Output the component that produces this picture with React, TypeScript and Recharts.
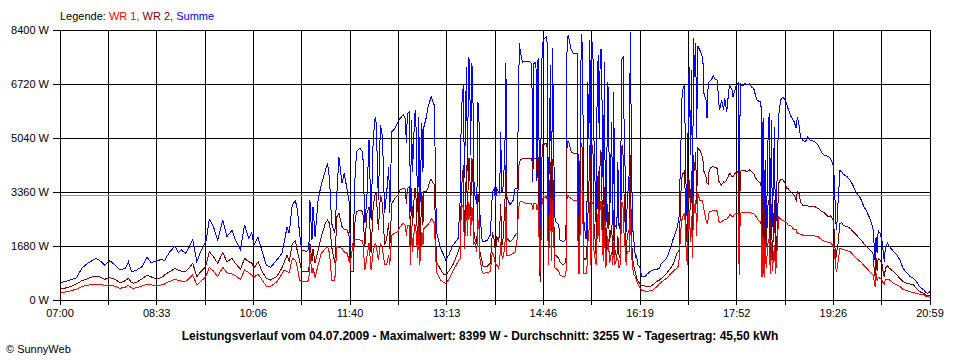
import { LineChart, Line, XAxis, YAxis, CartesianGrid, ReferenceLine } from 'recharts';

// minutes after 07:00 (07:00 .. 20:59)
const minutes = [
  0, 5, 10, 16, 21, 25, 29, 35, 40, 43, 48,
  53, 58, 63, 66, 69, 71, 74, 79, 84, 88, 93, 98, 101, 103, 106,
  111, 114, 117, 121, 124, 128, 132, 135, 139, 141, 144, 148, 152, 157,
  161, 166, 169, 174, 178, 182, 185, 187, 191, 195, 199, 203, 209, 214,
  216, 219, 221, 224, 227, 229, 231, 233, 238, 240, 241, 243, 244, 246,
  249, 252, 256, 258, 260, 262, 265, 267, 269, 272, 274, 277, 279, 280, 283, 284,
  286, 289, 292, 294, 296, 298, 300, 302, 304, 305, 307, 309, 311, 313, 315,
  317, 318, 320, 323, 326, 328, 331, 333, 334, 335, 337, 338, 339, 340, 342, 343,
  345, 346, 347, 349, 350, 351, 353, 355, 357, 358, 360, 361, 363, 367, 370, 372, 375,
  379, 384, 386, 387, 389, 390, 392, 393, 394, 395, 396, 397, 398, 399, 400, 402, 403, 404, 405,
  407, 408, 412, 415, 417, 419, 420, 421, 423, 424, 425, 426, 427, 429, 430, 431, 434, 437, 439, 441, 442, 443,
  444, 446, 449, 452, 454, 455, 456, 457, 459, 460, 461, 463, 464, 465, 467, 469, 470, 471, 472, 473, 474, 475,
  477, 478, 481, 482, 485, 487, 488, 489, 490, 491, 493, 495, 499, 500, 501, 502, 503, 504, 505,
  507, 508, 509, 510, 511, 512, 513, 514, 515, 517, 518, 519, 520, 521, 522, 523, 524, 525, 526, 527, 528, 529, 530,
  532, 533, 534, 535, 537, 538, 539, 540, 542, 543, 544, 545, 546, 547, 549, 550, 551, 552, 553, 555, 556, 557,
  559, 561, 564, 566, 569, 572, 575, 578, 580, 585, 588, 591, 595, 596, 597, 599, 600, 602, 603, 604, 605,
  606, 607, 608, 609, 610, 611, 612, 613, 614, 615, 617, 619, 620, 621, 623, 624, 625, 626, 628, 630, 632, 634, 635,
  636, 638, 640, 641, 643, 645, 646, 648, 649, 651, 652, 654, 655, 656, 658, 661, 662, 665, 667, 669, 670, 672,
  673, 675, 676, 677, 678, 679, 680, 681, 683, 684, 685, 686, 687, 689, 690, 691, 693, 695, 697, 699,
  701, 702, 705, 708, 710, 711, 713, 714, 716, 719, 721, 723, 728, 731, 735, 737, 741, 743, 745, 746,
  747, 748, 749, 750, 751, 752, 754, 755, 759, 762, 765, 768, 772, 775, 778, 781, 784, 785, 786, 787, 788, 789,
  791, 793, 794, 795, 796, 798, 800, 804, 807, 810, 813, 817, 820, 823, 826, 829, 833, 835, 837, 839,
];

// WR 1 (W)
const wr1 = [
  228, 250, 280, 340, 420, 450, 475, 498, 480, 456, 456,
  430, 363, 400, 456, 380, 363, 380, 430, 498, 470, 435, 470, 500, 540, 580,
  643, 600, 590, 570, 650, 778, 467, 560, 674, 760, 1016, 900, 726, 1016,
  850, 809, 760, 643, 933, 850, 778, 700, 809, 622, 430, 420, 560, 800,
  933, 880, 850, 1296, 1244, 1000, 622, 580, 570, 622, 1452, 850, 1000, 700,
  1100, 1452, 1600, 1659, 1452, 622, 622, 1659, 1640, 1607, 1500, 1452, 1192, 1141, 1867, 1867,
  1867, 1867, 1850, 933, 1348, 1763, 933, 1500, 1763, 1700, 1244, 1763, 1600, 1100, 1089,
  1400, 1100, 2022, 2080, 2126, 2281, 2385, 2333, 2000, 2330, 2333, 1089, 2300, 1500, 2333, 2300,
  1296, 2333, 1100, 2126, 1700, 2230, 2281, 2350, 2437, 2541, 2437, 2400, 881, 622, 540, 519, 640,
  900, 1200, 1296, 2955, 2900, 1600, 2955, 2000, 3007, 2950, 2000, 2903, 2800, 1700, 1815, 1500, 2500, 2300, 1296,
  900, 830, 850, 881, 1503, 1296, 1100, 1100, 985, 1200, 1800, 1400, 1300, 1600, 2900, 1400, 1400, 1450, 1503, 1918, 2800, 3007,
  3059, 3059, 3007, 3007, 3007, 3000, 2800, 3007, 3007, 2800, 2955, 881, 2000, 3163, 3190, 3214, 3100, 1100, 2000, 3163, 1200, 3100,
  1000, 985, 900, 778, 726, 750, 900, 3266, 3266, 3200, 3163, 3111, 3111, 830, 830, 3300, 3370, 3300, 830,
  830, 830, 1800, 2000, 3059, 1100, 3059, 3000, 1500, 1089, 2000, 2800, 1800, 3059, 3059, 1800, 1200, 2500, 1000, 1089, 2000, 1800, 1150,
  1500, 1100, 1800, 1089, 1296, 1300, 1000, 1000, 3059, 2900, 2000, 1600, 1100, 1500, 1500, 3000, 1500, 1100, 800, 726, 600, 519,
  400, 300, 280, 259, 290, 311, 400, 500, 560, 674, 780, 881, 1000, 1037, 1244, 2300, 2541, 2697, 2400, 1400, 1100,
  2700, 2800, 1800, 2600, 1300, 3200, 2700, 3100, 2000, 3318, 3111, 3111, 3007, 2800, 2489, 2385, 2500, 2748, 2748, 2800, 2790, 2750, 2489,
  2400, 2437, 2480, 2500, 2510, 2600, 2676, 2592, 2600, 2676, 2680, 2697, 780, 2697, 2717, 2717, 2717, 2717, 2700, 2680, 2645, 2560,
  2489, 2437, 2437, 726, 2000, 726, 1867, 1000, 1867, 1900, 800, 1800, 900, 1700, 800, 1200, 2592, 2510, 2480, 2437,
  2400, 2333, 2300, 2178, 2178, 2074, 2074, 2050, 2022, 2022, 2022, 2000, 1991, 1970, 1867, 1830, 1790, 1784, 1711, 1680,
  1452, 1000, 881, 1100, 1348, 1607, 1590, 1576, 1535, 1503, 1400, 1296, 1192, 1089, 985, 881, 778, 622, 415, 830, 600, 700,
  674, 600, 519, 500, 643, 640, 622, 519, 467, 415, 332, 290, 259, 230, 207, 180, 156, 120, 104, 83,
];

// WR 2 (W)
const wr2 = [
  332, 370, 415, 500, 600, 640, 700, 747, 700, 643, 695,
  640, 540, 600, 674, 540, 519, 560, 650, 778, 720, 643, 700, 780, 830, 880,
  985, 930, 900, 881, 980, 1141, 726, 850, 985, 1100, 1503, 1350, 1141, 1472,
  1192, 1296, 1150, 954, 1296, 1192, 1150, 985, 1192, 881, 674, 622, 726, 1000,
  1150, 1400, 1192, 1763, 1835, 1500, 1244, 881, 881, 900, 1763, 1200, 1600, 1141,
  1556, 1970, 2400, 2489, 2385, 1659, 1141, 2592, 2700, 2281, 2200, 2178, 1970, 881, 881, 2300,
  2748, 2800, 2750, 1659, 2697, 2903, 1452, 2903, 3318, 3300, 2178, 3266, 3000, 1700, 1900,
  2400, 1600, 3000, 3163, 3266, 3422, 3474, 3450, 3000, 3474, 3526, 1711, 3474, 2300, 3474, 3450,
  1700, 3370, 1500, 3370, 2333, 3370, 3370, 3500, 3733, 3754, 3629, 3600, 1192, 950, 800, 778, 900,
  1100, 1500, 1711, 3370, 4200, 1918, 4200, 2500, 4407, 4407, 2600, 4407, 4300, 2200, 1918, 1750, 3300, 3200, 1500,
  1200, 1037, 1050, 1141, 2126, 1815, 1400, 2000, 1800, 2178, 3000, 1711, 1750, 2955, 4200, 1918, 1815, 1900, 2022, 2100, 4000, 4300,
  4350, 4407, 4407, 4407, 4407, 4400, 4000, 4407, 4407, 4000, 4460, 570, 2500, 4822, 4850, 4874, 4700, 1400, 3000, 4304, 1503, 4400,
  1400, 1400, 1300, 1192, 1089, 1141, 1300, 4926, 4926, 4874, 4615, 4563, 4563, 1089, 1200, 4700, 4822, 4700, 1296,
  1250, 1400, 2500, 3500, 4822, 1800, 4822, 4600, 2333, 1400, 3000, 4000, 2500, 4640, 4600, 2500, 1918, 3500, 1400, 1400, 3000, 2500, 1815,
  2333, 1400, 2800, 1600, 1296, 2000, 1400, 1300, 4822, 4500, 3200, 2333, 1296, 2000, 2200, 4500, 2000, 1400, 1100, 830, 700, 600,
  519, 440, 435, 420, 415, 480, 570, 620, 674, 830, 960, 1089, 1452, 1500, 1556, 3500, 3889, 3992, 3300, 2000, 1711,
  3800, 3681, 2800, 4000, 2000, 4500, 4000, 4600, 3000, 4719, 4667, 4511, 4356, 4000, 3837, 3629, 3600, 4044, 4126, 4148, 4120, 4096, 3733,
  3650, 3578, 3681, 3650, 3733, 3900, 3940, 3837, 3837, 3940, 3960, 3992, 1244, 3992, 4044, 4020, 3992, 4044, 3990, 3940, 3850, 3733,
  3700, 3650, 3650, 1300, 3318, 1244, 3007, 1659, 3111, 3111, 1452, 3000, 1244, 3100, 1200, 1500, 3629, 3754, 3754, 3650,
  3474, 3474, 3350, 3266, 3111, 3370, 3300, 3059, 2955, 2955, 2930, 2903, 2903, 2852, 2748, 2710, 2592, 2620, 2520, 2489,
  1867, 1244, 1500, 1659, 1970, 2385, 2405, 2333, 2281, 2230, 2126, 2022, 1887, 1763, 1659, 1556, 1452, 1037, 726, 1296, 900, 1296,
  1244, 1100, 830, 726, 985, 1058, 985, 881, 778, 674, 570, 519, 498, 467, 363, 259, 207, 156, 150, 156,
];

// Summe (W)
const summe = [
  540, 570, 622, 695, 985, 1100, 1190, 1296, 1190, 1089, 1223,
  1089, 933, 985, 1190, 881, 900, 933, 1037, 1327, 1161, 1213, 1265, 1223, 1350, 1503,
  1680, 1472, 1556, 1452, 1607, 1888, 1192, 1452, 1711, 1867, 2510, 2281, 1867, 2489,
  1970, 2178, 1867, 1576, 2333, 1918, 2095, 1711, 1950, 1503, 1089, 1016, 1244, 1452,
  1763, 2281, 2074, 2955, 3089, 2800, 2074, 1556, 1503, 1600, 3111, 1867, 2903, 1970,
  3163, 3578, 4044, 4252, 3733, 2385, 2074, 3318, 4437, 3629, 3940, 3422, 3007, 1659, 1659, 3500,
  4615, 4719, 4615, 2385, 3214, 4978, 2489, 4978, 5703, 5496, 3111, 5444, 5081, 2697, 3318,
  4148, 2697, 5237, 5341, 5548, 5652, 5756, 5650, 4885, 5800, 5859, 2748, 5600, 3992, 5756, 5911,
  2748, 5700, 2800, 5496, 3992, 5392, 5652, 6015, 6222, 6326, 6118, 6067, 2126, 1607, 1400, 1244, 1400,
  1711, 1918, 3163, 5900, 6689, 3800, 7259, 4000, 7570, 7363, 4500, 7363, 7104, 3800, 3266, 3000, 6170, 5800, 2645,
  1900, 1815, 1850, 2022, 3370, 3474, 3000, 3474, 3370, 3300, 5237, 3370, 3370, 4500, 7363, 3200, 2955, 3100, 3474, 3474, 6000, 7985,
  7726, 7400, 7435, 7415, 7400, 7311, 3681, 7363, 7400, 3700, 7519, 2126, 5444, 7933, 8140, 8192, 7933, 2333, 5000, 7311, 2748, 7830,
  2600, 2437, 2333, 1867, 1815, 1867, 2333, 8000, 8244, 8089, 7778, 7674, 7674, 2022, 2000, 6793, 8264, 7726, 2541,
  1918, 1918, 6793, 5000, 8089, 3000, 8037, 7570, 4926, 2333, 6482, 7622, 5000, 7778, 7800, 5548, 2955, 7415, 2300, 2541, 6793, 6482, 2333,
  5548, 2333, 6482, 2333, 2230, 4304, 2300, 2200, 7519, 7550, 5444, 4000, 2126, 3000, 3992, 8348, 5000, 2333, 2000, 1296, 1400, 1100,
  1037, 726, 726, 800, 881, 933, 950, 985, 1141, 1296, 1556, 1867, 2230, 2400, 2592, 5133, 6482, 6689, 5133, 3000, 2437,
  6741, 7259, 4500, 7156, 3000, 8140, 6948, 8006, 5000, 7902, 7778, 7622, 7467, 6430, 6222, 5652, 6637, 6793, 6844, 6969, 6865, 6844, 6222,
  5911, 6222, 5911, 6274, 5859, 6533, 6658, 6533, 6326, 6533, 6658, 6741, 1900, 6741, 6658, 6741, 6689, 6720, 6616, 6586, 6450, 6222,
  6200, 6170, 6170, 1867, 5652, 1659, 4356, 1763, 5392, 5807, 1867, 5600, 2281, 5392, 1800, 3111, 5700, 6222, 6305, 6243,
  6067, 5963, 5703, 5548, 5341, 5703, 5392, 5081, 4978, 4926, 5081, 4978, 4926, 4822, 4563, 4511, 4460, 4408, 4252, 4148,
  3526, 2489, 2178, 2903, 3318, 4022, 3992, 3920, 3837, 3733, 3546, 3338, 3163, 2925, 2748, 2541, 2230, 1763, 1244, 1970, 1452, 2157,
  2074, 1800, 1452, 1192, 1659, 1763, 1659, 1503, 1400, 1244, 985, 830, 726, 674, 570, 415, 311, 228, 207, 259,
];

const timeLabels = ['07:00', '08:33', '10:06', '11:40', '13:13', '14:46', '16:19', '17:52', '19:26', '20:59'];
const wattTicks = [0, 1680, 3360, 5040, 6720, 8400];
const averageWatts = 3255;
const lastMinute = 839;

const data = minutes.map((m, i) => ({ m, wr1: wr1[i], wr2: wr2[i], summe: summe[i] }));

// a grid line every half label step
const xTicks = Array.from({ length: 19 }, (_, i) => (i * lastMinute) / 18);

const font = '"Liberation Sans", Arial, sans-serif';
const tickStyle = { fill: '#000', fontSize: 11, fontFamily: font };

export default function App() {
  return (
    <div style={{ position: 'absolute', left: 0, top: 0, width: 960, height: 360, background: '#fff', fontFamily: font }}>
      <style>{'.recharts-surface line, .recharts-surface path { shape-rendering: crispEdges; }'}</style>

      <div style={{ position: 'absolute', left: 60, top: 10, fontSize: 11, lineHeight: '13px', whiteSpace: 'nowrap' }}>
        <span style={{ color: '#000' }}>Legende: </span>
        <span style={{ color: '#ff0000' }}>WR 1, </span>
        <span style={{ color: '#800000' }}>WR 2, </span>
        <span style={{ color: '#0000ff' }}>Summe</span>
      </div>

      <LineChart width={960} height={360} data={data} margin={{ top: 30, right: 30, bottom: 30, left: 0 }}>
        <CartesianGrid stroke="#000" strokeWidth={1} />
        <XAxis
          dataKey="m"
          type="number"
          domain={[0, lastMinute]}
          ticks={xTicks}
          interval={0}
          height={30}
          tickSize={5}
          tickMargin={4}
          tickFormatter={(v, i) => (i % 2 === 0 ? timeLabels[i / 2] : '')}
          tick={tickStyle}
          axisLine={{ stroke: '#000' }}
          tickLine={{ stroke: '#000' }}
        />
        <YAxis
          type="number"
          domain={[0, 8400]}
          ticks={wattTicks}
          interval={0}
          width={60}
          tickSize={7}
          tickMargin={4}
          tickFormatter={(v) => `${v} W`}
          tick={tickStyle}
          axisLine={{ stroke: '#000' }}
          tickLine={{ stroke: '#000' }}
        />
        <ReferenceLine y={averageWatts} stroke="#999" strokeWidth={1} />
        <Line dataKey="summe" stroke="#0000ff" strokeWidth={1} dot={false} isAnimationActive={false} />
        <Line dataKey="wr2" stroke="#800000" strokeWidth={1} dot={false} isAnimationActive={false} />
        <Line dataKey="wr1" stroke="#ff0000" strokeWidth={1} dot={false} isAnimationActive={false} />
      </LineChart>

      <div style={{ position: 'absolute', left: 0, top: 329, width: 960, textAlign: 'center', fontSize: 12, fontWeight: 'bold', lineHeight: '15px' }}>
        Leistungsverlauf vom 04.07.2009 - Maximalwert: 8399 W - Durchschnitt: 3255 W - Tagesertrag: 45,50 kWh
      </div>
      <div style={{ position: 'absolute', left: 6, top: 342, fontSize: 11, lineHeight: '14px' }}>© SunnyWeb</div>
    </div>
  );
}
